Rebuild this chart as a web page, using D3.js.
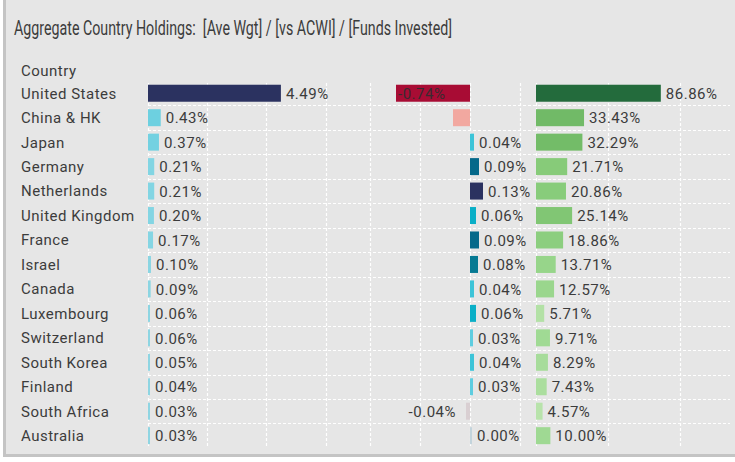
<!DOCTYPE html>
<html>
<head>
<meta charset="utf-8">
<script src="https://cdn.jsdelivr.net/npm/d3@7"></script>
<style>
  html, body { margin: 0; padding: 0; background: #ffffff; }
  svg { display: block; font-family: Roboto, "Noto Sans", sans-serif; }
</style>
</head>
<body>
<svg id="chart" width="735" height="462"></svg>
<script>
// Country holdings: average weight, active weight vs ACWI, share of funds invested
const countries = ["United States", "China & HK", "Japan", "Germany", "Netherlands",
  "United Kingdom", "France", "Israel", "Canada", "Luxembourg", "Switzerland",
  "South Korea", "Finland", "South Africa", "Australia"];
const aveWgt = [4.49, 0.43, 0.37, 0.21, 0.21, 0.20, 0.17, 0.10, 0.09, 0.06, 0.06, 0.05, 0.04, 0.03, 0.03];
const vsAcwi = [-0.74, -0.17, 0.04, 0.09, 0.13, 0.06, 0.09, 0.08, 0.04, 0.06, 0.03, 0.04, 0.03, -0.04, 0.00];
const fundsInvested = [86.86, 33.43, 32.29, 21.71, 20.86, 25.14, 18.86, 13.71, 12.57, 5.71, 9.71, 8.29, 7.43, 4.57, 10.00];
// rows whose active-weight label is not displayed
const hiddenVsLabels = ["China & HK"];

const title = "Aggregate Country Holdings:  [Ave Wgt] / [vs ACWI] / [Funds Invested]";
const rowHeader = "Country";

const W = 735, H = 462;
const svg = d3.select("#chart");
const textColor = "#3c3c3c";
const fontSize = 15, letterSpacing = 0.5;

// panel
svg.append("rect")
  .attr("x", 4.5).attr("y", -3).attr("width", W + 4).attr("height", 458.5)
  .attr("fill", "#e6e6e6").attr("stroke", "#c4c4c4").attr("stroke-width", 3);

svg.append("text")
  .attr("x", 14).attr("y", 34.5)
  .attr("font-size", 20.5).attr("fill", textColor)
  .style("white-space", "pre")
  .attr("textLength", 438).attr("lengthAdjust", "spacingAndGlyphs")
  .text(title);

svg.append("text")
  .attr("x", 21).attr("y", 76)
  .attr("font-size", fontSize).attr("letter-spacing", letterSpacing).attr("fill", textColor)
  .text(rowHeader);

// row scale
const rowTop = 81, step = 24.46;
const pad = (step - 17) / step;
const y = d3.scaleBand().domain(countries)
  .range([rowTop, rowTop + step * countries.length])
  .paddingInner(pad).paddingOuter(pad / 2);

// column scales
const x1 = d3.scaleLinear().domain([0, 7.5]).range([148, 370]);
const x2 = d3.scaleLinear().domain([-1, 0.66]).range([370, 536]);
const x3 = d3.scaleLinear().domain([0, 135]).range([536, 730]);

// colour scales
const c1 = d3.scaleLinear().domain([0.03, 0.21, 0.43, 4.49])
  .range(["#8fd5e2", "#82d5e3", "#6dd0e0", "#2b3260"]);
const c2neg = d3.scaleLinear().domain([-0.74, -0.17, -0.04])
  .range(["#a80c34", "#f2a8a0", "#d9cfd2"]).clamp(true);
const c2pos = d3.scaleLinear().domain([0, 0.03, 0.04, 0.06, 0.08, 0.09, 0.13])
  .range(["#c3d4dc", "#5ecde0", "#3cc4d8", "#0aafc7", "#077a93", "#05698a", "#2b3260"]).clamp(true);
const c2 = v => v < 0 ? c2neg(v) : c2pos(v);
const c3 = d3.scaleLinear().domain([4.57, 10, 20, 33, 86.86])
  .range(["#b8e3ab", "#9fd993", "#8acd7c", "#72bb67", "#236b3c"]);

// grid
const grid = svg.append("g")
  .attr("stroke", "#ffffff").attr("stroke-width", 1.2)
  .attr("stroke-dasharray", "3,2").attr("fill", "none");

const gridBottom = rowTop + step * countries.length;
countries.slice(1).forEach((c, i) => {
  const yy = Math.round(rowTop + step * (i + 1)) + 0.5;
  grid.append("line").attr("x1", 148).attr("x2", 730).attr("y1", yy).attr("y2", yy);
});

const vTicks = [
  ...x1.ticks(4).map(t => x1(t)),
  ...[-1, -0.5, 0, 0.5].map(t => x2(t)),
  ...x3.ticks(3).map(t => x3(t))
];
vTicks.forEach(xx => {
  const xr = Math.round(xx) + 0.5;
  grid.append("line").attr("x1", xr).attr("x2", xr).attr("y1", 83).attr("y2", gridBottom);
});

// row labels
svg.append("g").selectAll("text").data(countries).join("text")
  .attr("x", 21).attr("y", d => y(d) + y.bandwidth() / 2)
  .attr("dy", "0.36em")
  .attr("font-size", fontSize).attr("letter-spacing", letterSpacing).attr("fill", textColor)
  .text(d => d);

const fmt = v => v.toFixed(2) + "%";
const minW = 2;

function drawColumn(values, x, color, hidden) {
  const g = svg.append("g");
  const rows = countries.map((c, i) => ({ c, v: values[i] }));
  g.selectAll("rect").data(rows).join("rect")
    .attr("x", d => d.v < 0 ? x(d.v) : x(0))
    .attr("y", d => y(d.c))
    .attr("width", d => Math.max(minW, Math.abs(x(d.v) - x(0))))
    .attr("height", y.bandwidth())
    .attr("fill", d => color(d.v));

  g.selectAll("text").data(rows.filter(d => !(hidden || []).includes(d.c))).join("text")
    .attr("y", d => y(d.c) + y.bandwidth() / 2)
    .attr("dy", "0.38em")
    .attr("font-size", fontSize).attr("letter-spacing", letterSpacing).attr("fill", textColor)
    .each(function (d) {
      const t = d3.select(this).text(fmt(d.v));
      if (d.v < 0) {
        const start = x(d.v);
        const wBar = x(0) - start;
        const tw = this.getComputedTextLength();
        if (wBar > tw + 4) {
          t.attr("x", start + 2).attr("text-anchor", "start").attr("fill", "#3a2a30");
        } else {
          t.attr("x", start - 10).attr("text-anchor", "end");
        }
      } else {
        const end = x(0) + Math.max(minW, x(d.v) - x(0));
        t.attr("x", end + 5).attr("text-anchor", "start");
      }
    });
}

drawColumn(aveWgt, x1, c1);
drawColumn(vsAcwi, x2, c2, hiddenVsLabels);
drawColumn(fundsInvested, x3, c3);
</script>
</body>
</html>
